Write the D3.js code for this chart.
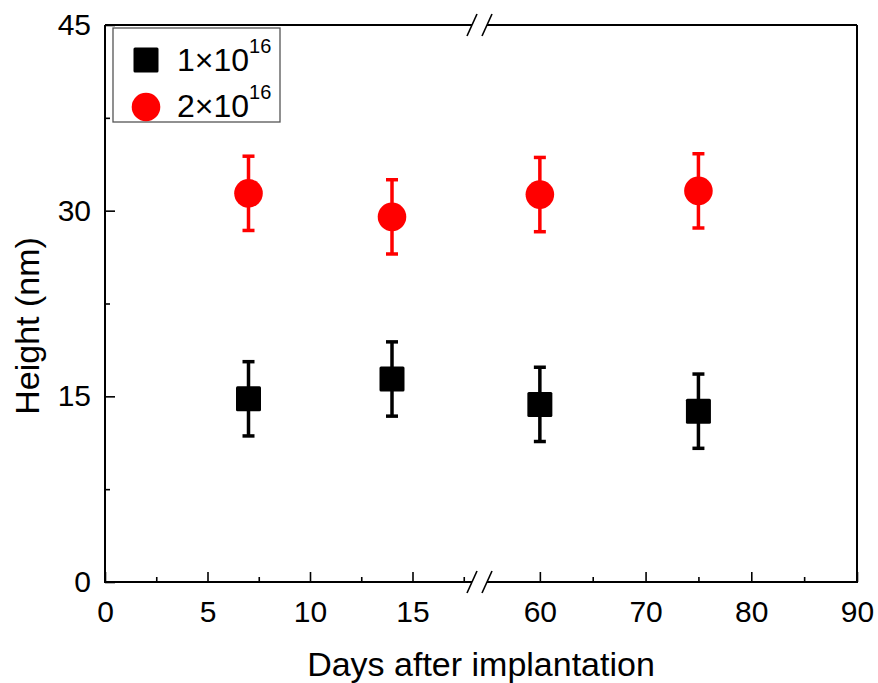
<!DOCTYPE html>
<html>
<head>
<meta charset="utf-8">
<script src="https://cdn.jsdelivr.net/npm/d3@7"></script>
<style>
  body { margin: 0; background: #fff; }
  svg text { font-family: Arial, "Liberation Sans", sans-serif; fill: #000; }
</style>
</head>
<body>
<svg id="chart" width="878" height="683"></svg>
<script>
// Data
const days = [7, 14, 60, 75];
const series1Label = "1×10", series1Exp = "16";
const series2Label = "2×10", series2Exp = "16";
const height1 = [14.8, 16.4, 14.35, 13.8];
const error1 = [3.0, 3.0, 3.0, 3.0];
const height2 = [31.4, 29.5, 31.3, 31.6];
const error2 = [3.0, 3.0, 3.0, 3.0];

const leftMajor = [0, 5, 10, 15], leftMinor = [2.5, 7.5, 12.5, 17.5];
const rightMajor = [60, 70, 80, 90], rightMinor = [65, 75, 85];
const yMajor = [0, 15, 30, 45], yMinor = [7.5, 22.5, 37.5];

const svg = d3.select("#chart");
const plot = { left: 105, right: 857, top: 25, bottom: 582 };

// broken x axis: two linear segments
const xLeft = d3.scaleLinear().domain([0, 18]).range([105, 474]);
const xRight = d3.scaleLinear().domain([55, 90]).range([487, 857]);
const xPos = d => d <= 18 ? xLeft(d) : xRight(d);
const y = d3.scaleLinear().domain([0, 45]).range([plot.bottom, plot.top]);

const tickFont = 30, titleFont = 34;

function styleAxis(g) {
    g.select(".domain").remove();
    g.selectAll(".tick line").attr("stroke", "#000").attr("stroke-width", 1.6);
    g.selectAll(".tick text").attr("font-size", tickFont).attr("font-family", "Arial, 'Liberation Sans', sans-serif");
}

// bottom axis (major + minor for both segments)
[[xLeft, leftMajor, leftMinor], [xRight, rightMajor, rightMinor]].forEach(([sc, maj, min]) => {
    svg.append("g")
        .attr("transform", `translate(0,${plot.bottom})`)
        .call(d3.axisBottom(sc).tickValues(maj).tickSize(-10).tickPadding(19).tickFormat(d3.format("d")))
        .call(styleAxis);
    svg.append("g")
        .attr("transform", `translate(0,${plot.bottom})`)
        .call(d3.axisBottom(sc).tickValues(min).tickSize(-5).tickFormat(""))
        .call(styleAxis);
});

// left axis
svg.append("g")
    .attr("transform", `translate(${plot.left},0)`)
    .call(d3.axisLeft(y).tickValues(yMajor).tickSize(-10).tickPadding(14).tickFormat(d3.format("d")))
    .call(styleAxis);
svg.append("g")
    .attr("transform", `translate(${plot.left},0)`)
    .call(d3.axisLeft(y).tickValues(yMinor).tickSize(-5).tickFormat(""))
    .call(styleAxis);

// frame with gaps at the break
const frame = svg.append("g").attr("stroke", "#000").attr("stroke-width", 2).attr("fill", "none");
const breakL = xLeft(18) - 2, breakR = xRight(55);
[plot.top, plot.bottom].forEach(yy => {
    frame.append("line").attr("x1", plot.left).attr("x2", breakL).attr("y1", yy).attr("y2", yy);
    frame.append("line").attr("x1", breakR).attr("x2", plot.right).attr("y1", yy).attr("y2", yy);
    [breakL, breakR].forEach(bx => {
        frame.append("line")
            .attr("stroke-width", 1.6)
            .attr("x1", bx - 5).attr("y1", yy + 11)
            .attr("x2", bx + 5).attr("y2", yy - 11);
    });
});
frame.append("line").attr("x1", plot.left).attr("x2", plot.left).attr("y1", plot.top).attr("y2", plot.bottom + 1);
frame.append("line").attr("x1", plot.right).attr("x2", plot.right).attr("y1", plot.top).attr("y2", plot.bottom + 1);

// axis titles
svg.append("text")
    .attr("x", 481).attr("y", 676)
    .attr("text-anchor", "middle")
    .attr("font-size", titleFont)
    .text("Days after implantation");

svg.append("text")
    .attr("transform", `translate(39,326) rotate(-90)`)
    .attr("text-anchor", "middle")
    .attr("font-size", titleFont)
    .text("Height (nm)");

// error bars + markers
function drawSeries(vals, errs, color, shape) {
    const g = svg.append("g");
    const rows = days.map((d, i) => ({ d, v: vals[i], e: errs[i] }));
    g.selectAll("line.bar").data(rows).enter().append("line")
        .attr("x1", r => xPos(r.d)).attr("x2", r => xPos(r.d))
        .attr("y1", r => y(r.v + r.e)).attr("y2", r => y(r.v - r.e))
        .attr("stroke", color).attr("stroke-width", 3.5);
    [1, -1].forEach(s => {
        g.selectAll(null).data(rows).enter().append("line")
            .attr("x1", r => xPos(r.d) - 6).attr("x2", r => xPos(r.d) + 6)
            .attr("y1", r => y(r.v + s * r.e)).attr("y2", r => y(r.v + s * r.e))
            .attr("stroke", color).attr("stroke-width", 3.5);
    });
    if (shape === "square") {
        g.selectAll("rect").data(rows).enter().append("rect")
            .attr("x", r => xPos(r.d) - 12.5).attr("y", r => y(r.v) - 12.5)
            .attr("width", 25).attr("height", 25).attr("rx", 1.5)
            .attr("fill", color);
    } else {
        g.selectAll("circle").data(rows).enter().append("circle")
            .attr("cx", r => xPos(r.d)).attr("cy", r => y(r.v)).attr("r", 14.3)
            .attr("fill", color);
    }
}
drawSeries(height1, error1, "#000", "square");
drawSeries(height2, error2, "#ff0000", "circle");

// legend
const legend = svg.append("g");
legend.append("rect")
    .attr("x", 113).attr("y", 28).attr("width", 167).attr("height", 94)
    .attr("fill", "#fff").attr("stroke", "#555").attr("stroke-width", 1.3);
legend.append("rect").attr("x", 146 - 12.5).attr("y", 60 - 12.5).attr("width", 25).attr("height", 25).attr("rx", 1.5).attr("fill", "#000");
legend.append("circle").attr("cx", 146).attr("cy", 107).attr("r", 14.3).attr("fill", "#ff0000");
[[series1Label, series1Exp, 71], [series2Label, series2Exp, 117]].forEach(([lab, ex, by]) => {
    const t = legend.append("text").attr("x", 177).attr("y", by).attr("font-size", 32);
    t.append("tspan").text(lab);
    t.append("tspan").attr("font-size", 20).attr("dy", -18).text(ex);
});
</script>
</body>
</html>
